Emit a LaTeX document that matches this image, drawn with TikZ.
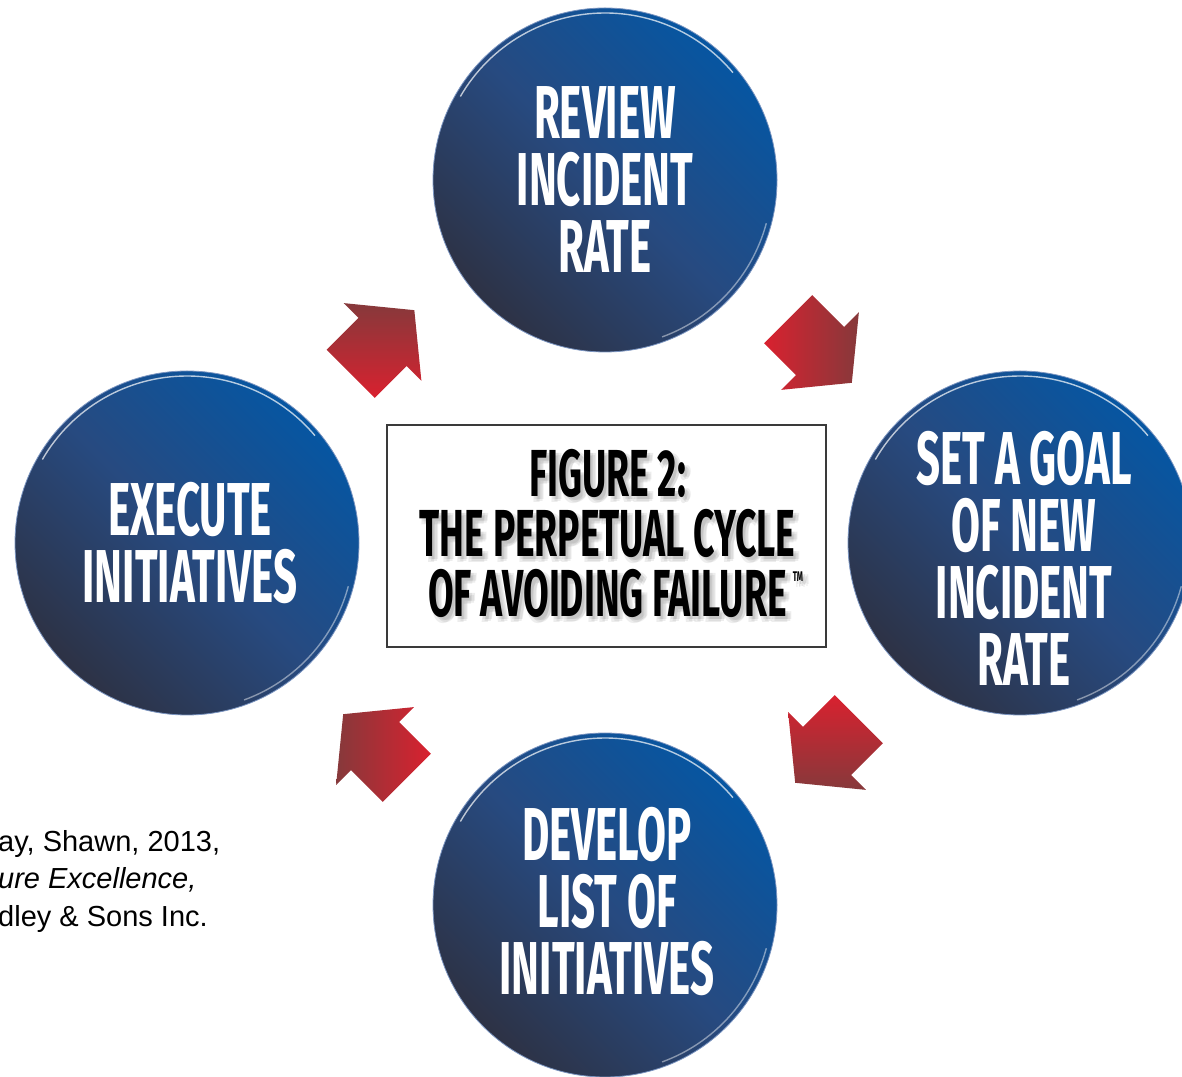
\documentclass[tikz,border=0pt]{standalone}
\usepackage{fontspec}
\newfontfamily\capsfont[FakeStretch=0.56]{Fira Sans}
\newfontfamily\citefont{Liberation Sans}
\usetikzlibrary{calc}

\definecolor{circlight}{HTML}{0656A2}
\definecolor{circmid}{HTML}{274A80}
\definecolor{circdark}{HTML}{2D3245}
\definecolor{circrim}{HTML}{7A94C0}
\definecolor{arrowdark}{HTML}{86393B}
\definecolor{arrowbright}{HTML}{D9212F}
\definecolor{boxline}{HTML}{3A3A3A}

\newcommand\figuretitle{FIGURE 2:\\THE PERPETUAL CYCLE\\OF AVOIDING FAILURE\rlap{\hspace{6pt}\raisebox{35pt}{\fontsize{14}{14}\selectfont TM}}}

\tikzset{
  stage/.style={circle, minimum size=344pt, inner sep=0pt, draw=circrim, line width=0.8pt,
    top color=circlight, bottom color=circdark, middle color=circmid, shading angle=-45},
  stagetext/.style={text=white, align=center, inner sep=0pt,
    font=\capsfont\bfseries\fontsize{75}{67}\selectfont},
  boxtext/.style={align=center, inner sep=0pt,
    font=\capsfont\bfseries\fontsize{66.5}{60}\selectfont},
  rim/.style={white, line width=1.4pt, opacity=0.7},
}

\begin{document}
\begin{tikzpicture}[x=1pt, y=1pt]
\useasboundingbox (0,0) rectangle (1182,1076);

% Stages of the cycle
\node[stage] (review) at (605,896) {};
\node[stage] (goal) at (1020,533) {};
\node[stage] (develop) at (605,171) {};
\node[stage] (execute) at (187,533) {};

% Glossy rims
\foreach \c in {review,goal,develop,execute} {
  \draw[rim] ($(\c)+(150:167)$) arc[start angle=150, end angle=40, radius=167];
  \draw[rim, opacity=0.45] ($(\c)+(-15:167)$) arc[start angle=-15, end angle=-70, radius=167];
}

\node[stagetext] (reviewtext) at (review) {REVIEW\\INCIDENT\\RATE};
\node[stagetext] (goaltext) at ([shift={(4,-15)}]goal.center) {SET A GOAL\\OF NEW\\INCIDENT\\RATE};
\node[stagetext] (developtext) at ([shift={(2,3)}]develop.center) {DEVELOP\\LIST OF\\INITIATIVES};
\node[stagetext] (executetext) at ([shift={(3,0)}]execute.center) {EXECUTE\\INITIATIVES};

% Block arrows between stages
\foreach \a/\b/\dx/\dy/\rot [evaluate=\rot as \shang using \rot-45] in
  {execute/review/-13.5/19.5/45, review/goal/7.5/10.5/-45,
   goal/develop/14.5/-27/-135, develop/execute/-21/-22/135} {
  \begin{scope}[shift={($(\a)!0.5!(\b)+(\dx,\dy)$)}, rotate=\rot]
    \shade[top color=arrowdark, bottom color=arrowbright, shading angle=\shang]
      (-45,-34) -- (0,-34) -- (0,-55) -- (45,0) -- (0,55) -- (0,34) -- (-45,34) -- cycle;
  \end{scope}
}

% Title box, soft text shadow
\node[draw=boxline, line width=2pt, fill=white, minimum width=439pt, minimum height=222pt] (title) at (606.5,540) {};
\foreach \dx/\dy [count=\i] in {3/-3, 5/-5, 2/-6, 6/-3} {
  \node[boxtext, text=black!55, opacity=0.12] (shadow\i) at ([shift={(\dx+1,\dy+2.5)}]title.center) {\figuretitle};
}
\node[boxtext] (titletext) at ([shift={(1,2.5)}]title.center) {\figuretitle};

% Source
\node[anchor=north west, align=left, inner sep=0pt, font=\citefont\fontsize{29}{37.5}\selectfont] (source) at (-2,246)
  {ay, Shawn, 2013,\\\textit{ure Excellence,}\\dley \& Sons Inc.};

\end{tikzpicture}
\end{document}
